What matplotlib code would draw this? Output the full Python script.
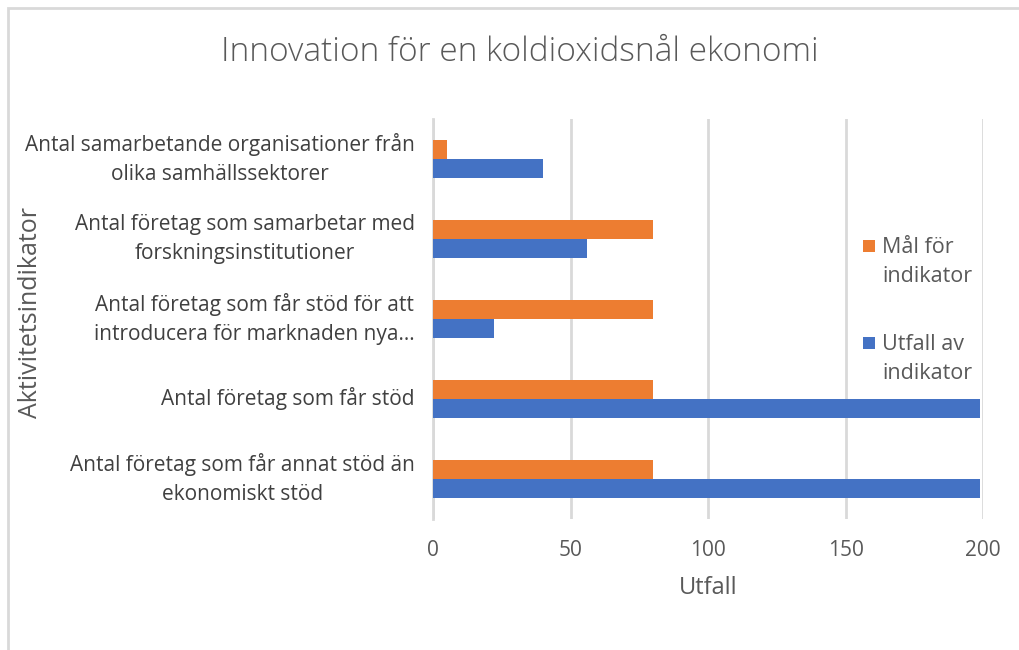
import matplotlib
matplotlib.use("Agg")
import matplotlib.pyplot as plt
import numpy as np
from matplotlib.patches import Rectangle

title = "Innovation för en koldioxidsnål ekonomi"
categories = [
    "Antal samarbetande organisationer från\nolika samhällssektorer",
    "Antal företag som samarbetar med\nforskningsinstitutioner",
    "Antal företag som får stöd för att\nintroducera för marknaden nya…",
    "Antal företag som får stöd",
    "Antal företag som får annat stöd än\nekonomiskt stöd",
]
mal = [5, 80, 80, 80, 80]          # Mål för indikator
utfall = [40, 56, 22, 199, 199]    # Utfall av indikator
xticks = [0, 50, 100, 150, 200]
series_labels = ["Mål för\nindikator", "Utfall av\nindikator"]

BLUE = "#4472C4"
ORANGE = "#ED7D31"
GRID = "#D9D9D9"
TXT = "#595959"

plt.rcParams["font.family"] = ["Open Sans", "DejaVu Sans"]

fig = plt.figure(figsize=(10.19, 6.5), dpi=100)
ax = fig.add_axes([433 / 1019, 1 - 519 / 650, 550 / 1019, 400 / 650])

y = np.arange(len(categories))
h = 0.235
ax.barh(y - h / 2, mal, height=h, color=ORANGE, zorder=3)
ax.barh(y + h / 2, utfall, height=h, color=BLUE, zorder=3)

ax.set_ylim(len(categories) - 0.5, -0.5)
ax.set_xlim(0, 200)
ax.set_xticks(xticks)
ax.set_yticks(y)
ax.set_yticklabels(categories, fontsize=15, color="#404040", ha="right", va="center",
                   multialignment="center", linespacing=1.45)
ax.tick_params(axis="y", length=0, pad=13)
ax.tick_params(axis="x", length=0, pad=15, labelsize=15, labelcolor=TXT)
ax.grid(axis="x", color=GRID, linewidth=2, zorder=0)
for s in ["top", "right", "bottom"]:
    ax.spines[s].set_visible(False)
ax.spines["left"].set_color(GRID)
ax.spines["left"].set_linewidth(2)

ax.set_xlabel("Utfall", fontsize=17, color=TXT, labelpad=11)
fig.text(31 / 1019, 1 - 312 / 650, "Aktivitetsindikator", rotation=90,
         fontsize=18, color=TXT, ha="center", va="center")
fig.text(520 / 1019, 1 - 52 / 650, title, fontsize=24, color=TXT,
         ha="center", va="center", fontweight="light")

# legend: marker aligned with the first line of each entry
for (lab, col, ypx) in [(series_labels[0], ORANGE, 246), (series_labels[1], BLUE, 343)]:
    fig.patches.append(Rectangle((863 / 1019, 1 - (ypx + 6) / 650), 12 / 1019, 12 / 650,
                                 transform=fig.transFigure, facecolor=col,
                                 edgecolor="none"))
    fig.text(882 / 1019, 1 - (ypx - 9) / 650, lab, fontsize=15.5, color=TXT,
             ha="left", va="top", linespacing=1.5)

fig.patches.append(Rectangle((8 / 1019, -0.1), 1.2, 1 - 8 / 650 + 0.1,
                             transform=fig.transFigure, fill=False,
                             edgecolor=GRID, linewidth=2))

fig.savefig("out.png", dpi=100)
